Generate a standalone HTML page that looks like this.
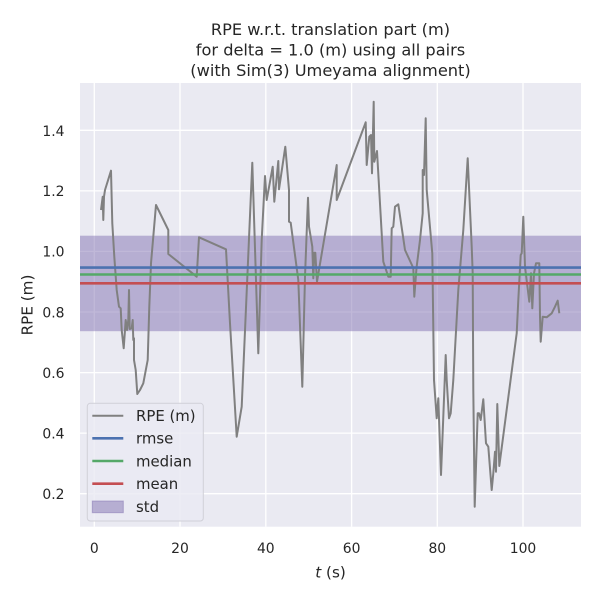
<!DOCTYPE html>
<html><head><meta charset="utf-8"><style>
html,body{margin:0;padding:0;background:#fff;}
svg{display:block;font-family:"DejaVu Sans","Liberation Sans",sans-serif;}
</style></head><body>
<svg width="600" height="600" viewBox="0 0 600 600" xmlns="http://www.w3.org/2000/svg">
<rect x="0" y="0" width="600" height="600" fill="#ffffff"/>
<rect x="80" y="83" width="501" height="443.7" fill="#eaeaf2"/>
<g stroke="#ffffff" stroke-width="1.3">
<line x1="94.3" y1="83" x2="94.3" y2="526.7"/>
<line x1="180" y1="83" x2="180" y2="526.7"/>
<line x1="265.8" y1="83" x2="265.8" y2="526.7"/>
<line x1="351.6" y1="83" x2="351.6" y2="526.7"/>
<line x1="437.3" y1="83" x2="437.3" y2="526.7"/>
<line x1="523" y1="83" x2="523" y2="526.7"/>
<line x1="80" y1="493.7" x2="581" y2="493.7"/>
<line x1="80" y1="433.1" x2="581" y2="433.1"/>
<line x1="80" y1="372.6" x2="581" y2="372.6"/>
<line x1="80" y1="312" x2="581" y2="312"/>
<line x1="80" y1="251.4" x2="581" y2="251.4"/>
<line x1="80" y1="190.9" x2="581" y2="190.9"/>
<line x1="80" y1="130.3" x2="581" y2="130.3"/>
</g>
<rect x="80" y="235.7" width="501" height="95.5" fill="#8172b2" fill-opacity="0.5"/>
<polyline fill="none" stroke="#808080" stroke-width="2" stroke-linejoin="round" points="
101,210 102.7,196.7 103.3,220 104,196.7 105,190 111,170.7 112.3,223.3 114.3,256.7 116.7,290 119,306.7 120.7,308.3 121.7,330 123.7,348.3 125.7,320 127,330 128.3,320 129,290 129.7,329 131.7,328.3 132.7,320 133.3,340 134,338.3 134,360 135.7,370 137.3,394 140,390 143.3,383.3 147.7,360 149.3,306.7 151,263.3 156,205 168.3,230 168.3,254 196.7,276.7 199,237.3 226,249.3 230,323.3 236.7,436.7 241.7,406.7
252.3,162.7 258.3,353.3 261.7,240 265,176 266.7,200 272.7,166.7 274.3,201.7 278.3,161 279,189.3 285.3,146.7 289,190 289,221.7 290.7,222.7 298.3,280 302.3,386.7 305,276.7 308,197.7 309,226.7 312.3,246.7 313.3,278.3 314.3,252.7 315.3,252.7 317,281.7 336.7,165 336.7,200 365.7,122.3 366.7,165 369.3,136.7 371,135 372,173.3 373.7,101.7 374.3,161.7 377,151 383.3,261.7 388.3,276.7 390.7,276.7 391.7,228.3 393.3,226.7 395,206.7 398.3,204.3 405,250
413.3,268 414.3,296.7 416.5,268 420,240 422.7,213.3 422.7,170 424,175 425.7,118.3 426.7,190 432.3,253.3 434,380 436.7,418.3 438.3,398.3 441,475 443.3,416.7 445.7,355 446.7,380 449,418.3 450.7,413.3 453.3,380 458.3,290 463.3,230 467.7,158.3 471.7,246.7 472.7,273.3 473.3,390 474.7,506.7 477.7,413.3 479,413.3 480.7,420 483.3,399.3 486,443.3 488.3,446.7 491.7,490 493.3,473.3 495,451.7 496,471.7 497.3,404 499.3,466 516.7,333.3 518.3,300 520.7,255 521.7,253.3 523.3,216.7 525,266.7 529.3,301.7 531,273.3 532.3,308.3 534,273.3 536,263.3 537.7,263.3 539.3,263.3 540,316.7 540.7,341.7 542.7,316.7 546.7,317.3 551.7,313.3 555,306.7 557.7,300.7 559.3,313.3"/>
<line x1="80" y1="267.6" x2="581" y2="267.6" stroke="#4c72b0" stroke-width="2.6"/>
<line x1="80" y1="274.5" x2="581" y2="274.5" stroke="#55a868" stroke-width="2.6"/>
<line x1="80" y1="283.3" x2="581" y2="283.3" stroke="#c44e52" stroke-width="2.6"/>
<g fill="#262626" font-size="13.9" text-anchor="end">
<text x="64.5" y="136">1.4</text>
<text x="64.5" y="196.2">1.2</text>
<text x="64.5" y="256.7">1.0</text>
<text x="64.5" y="317.3">0.8</text>
<text x="64.5" y="377.9">0.6</text>
<text x="64.5" y="438.4">0.4</text>
<text x="64.5" y="499">0.2</text>
</g>
<g fill="#262626" font-size="13.9" text-anchor="middle">
<text x="94.3" y="553">0</text>
<text x="180" y="553">20</text>
<text x="265.8" y="553">40</text>
<text x="351.6" y="553">60</text>
<text x="437.3" y="553">80</text>
<text x="523" y="553">100</text>
</g>
<text x="330.5" y="577.3" fill="#262626" font-size="15.2" text-anchor="middle"><tspan font-style="italic">t</tspan> (s)</text>
<text transform="translate(32.5,305) rotate(-90)" fill="#262626" font-size="15.2" text-anchor="middle">RPE (m)</text>
<g fill="#262626" font-size="16.2" text-anchor="middle">
<text x="330.5" y="35">RPE w.r.t. translation part (m)</text>
<text x="330.5" y="55.5">for delta = 1.0 (m) using all pairs</text>
<text x="330.5" y="76">(with Sim(3) Umeyama alignment)</text>
</g>
<rect x="87.3" y="403.3" width="116" height="117.7" rx="3" fill="#eaeaf2" fill-opacity="0.8" stroke="#d0d0d8" stroke-width="1"/>
<line x1="92.3" y1="415.7" x2="123.3" y2="415.7" stroke="#808080" stroke-width="2"/>
<line x1="92.3" y1="438.3" x2="123.3" y2="438.3" stroke="#4c72b0" stroke-width="2.6"/>
<line x1="92.3" y1="461" x2="123.3" y2="461" stroke="#55a868" stroke-width="2.6"/>
<line x1="92.3" y1="483.7" x2="123.3" y2="483.7" stroke="#c44e52" stroke-width="2.6"/>
<rect x="92.3" y="501" width="31" height="11.7" fill="#8172b2" fill-opacity="0.5" stroke="#8172b2" stroke-opacity="0.5" stroke-width="1"/>
<g fill="#262626" font-size="14.9">
<text x="136" y="421">RPE (m)</text>
<text x="136" y="443.6">rmse</text>
<text x="136" y="466.3">median</text>
<text x="136" y="489">mean</text>
<text x="136" y="512">std</text>
</g>
</svg>
</body></html>
